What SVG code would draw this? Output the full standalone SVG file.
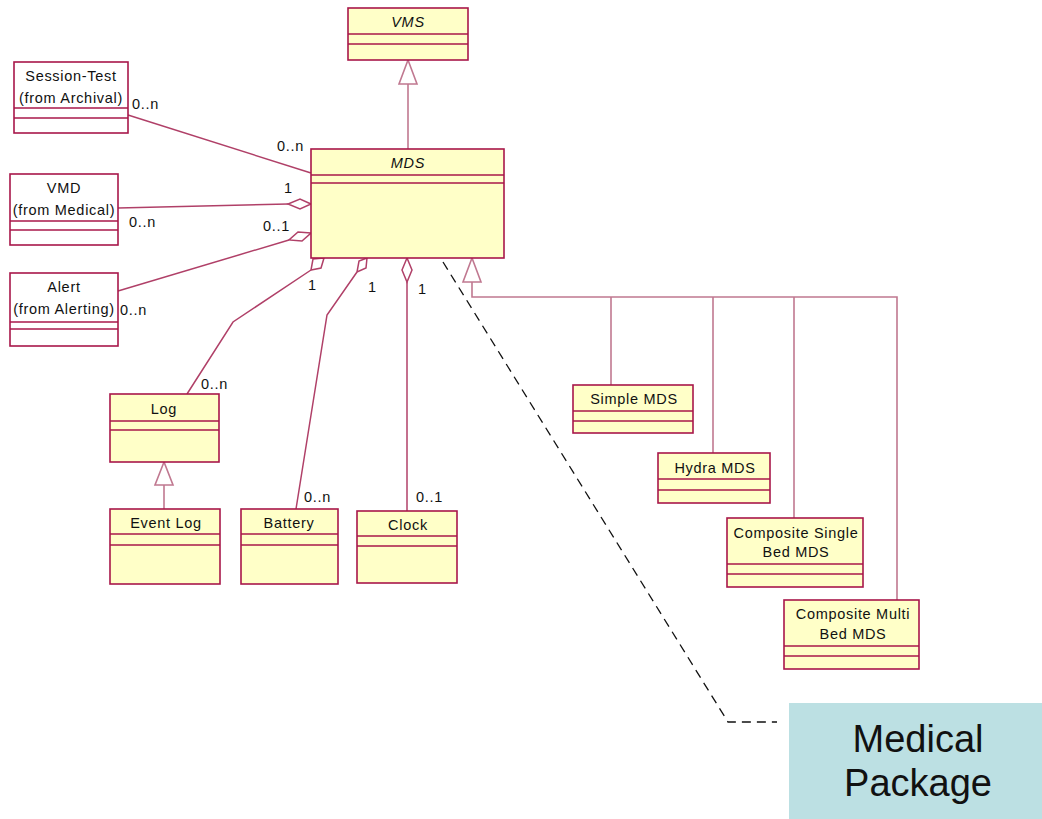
<svg xmlns="http://www.w3.org/2000/svg" width="1042" height="819" viewBox="0 0 1042 819">
<style>
.cls{fill:#ffffc8;stroke:#a8174a;stroke-width:1.6}
.ext{fill:#ffffff;stroke:#a8174a;stroke-width:1.6}
.sep{stroke:#a8174a;stroke-width:1.6}
.t{font-family:"Liberation Sans",Arial,sans-serif;font-size:14.5px;letter-spacing:0.7px;fill:#111;text-anchor:middle}
.ti{font-family:"Liberation Sans",Arial,sans-serif;font-size:14.5px;letter-spacing:0.7px;fill:#111;text-anchor:middle;font-style:italic}
.lbl{font-family:"Liberation Sans",Arial,sans-serif;font-size:14.5px;letter-spacing:0.7px;fill:#111}
.c{fill:none;stroke:#b04068;stroke-width:1.5}
.g{fill:none;stroke:#c07890;stroke-width:1.6}
.tri{fill:#ffffff;stroke:#c07890;stroke-width:1.6}
.dia{fill:#ffffff;stroke:#b04068;stroke-width:1.5}
.dash{fill:none;stroke:#111;stroke-width:1.3;stroke-dasharray:9,6}
.pkg{font-family:"Liberation Sans",Arial,sans-serif;font-size:38px;fill:#111;text-anchor:middle}
</style>
<rect width="1042" height="819" fill="#ffffff"/>
<g id="connectors">
  <line class="g" x1="408" y1="84" x2="408" y2="149"/>
  <polygon class="tri" points="408,60 399,84 417,84"/>
  <line class="c" x1="128" y1="115" x2="311" y2="173"/>
  <line class="c" x1="118" y1="208" x2="288" y2="204"/>
  <polygon class="dia" points="311,204 300,199 288,204 300,209"/>
  <line class="c" x1="118" y1="291" x2="289" y2="240"/>
  <polygon class="dia" points="311,233 298,232 289,240 302,241"/>
  <polyline class="c" points="311,270 233,322 187,394"/>
  <polygon class="dia" points="324,258 313,259 311,270 321,268"/>
  <polyline class="c" points="357,272 327,315 296,509"/>
  <polygon class="dia" points="367,258 359,261 357,272 366,268"/>
  <line class="c" x1="407" y1="282" x2="407" y2="511"/>
  <polygon class="dia" points="407,258 402,270 407,282 412,270"/>
  <line class="g" x1="164" y1="485" x2="164" y2="509"/>
  <polygon class="tri" points="164,462 155,485 173,485"/>
  <polyline class="g" points="472,282 472,297 897,297 897,600"/>
  <line class="g" x1="611" y1="297" x2="611" y2="385"/>
  <line class="g" x1="713" y1="297" x2="713" y2="453"/>
  <line class="g" x1="794" y1="297" x2="794" y2="518"/>
  <polygon class="tri" points="472,258 463,282 481,282"/>
  <polyline class="dash" points="443,262 728,722 777,722"/>
  <text class="lbl" x="132" y="109">0..n</text>
  <text class="lbl" x="277" y="151">0..n</text>
  <text class="lbl" x="284" y="193">1</text>
  <text class="lbl" x="129" y="227">0..n</text>
  <text class="lbl" x="263" y="231">0..1</text>
  <text class="lbl" x="120" y="315">0..n</text>
  <text class="lbl" x="308" y="290">1</text>
  <text class="lbl" x="368" y="292">1</text>
  <text class="lbl" x="418" y="294">1</text>
  <text class="lbl" x="201" y="389">0..n</text>
  <text class="lbl" x="304" y="502">0..n</text>
  <text class="lbl" x="416" y="502">0..1</text>
</g>
<g id="VMS">
  <rect class="cls" x="348" y="8" width="120" height="52"/>
  <line class="sep" x1="348" y1="34" x2="468" y2="34"/>
  <line class="sep" x1="348" y1="44" x2="468" y2="44"/>
  <text class="ti" x="408" y="27">VMS</text>
</g>
<g id="MDS">
  <rect class="cls" x="311" y="149" width="193" height="109"/>
  <line class="sep" x1="311" y1="175" x2="504" y2="175"/>
  <line class="sep" x1="311" y1="183" x2="504" y2="183"/>
  <text class="ti" x="408" y="168">MDS</text>
</g>
<g id="SessionTest">
  <rect class="ext" x="14" y="62" width="114" height="71"/>
  <line class="sep" x1="14" y1="108" x2="128" y2="108"/>
  <line class="sep" x1="14" y1="118" x2="128" y2="118"/>
  <text class="t" x="71" y="81">Session-Test</text>
  <text class="t" x="71" y="103">(from Archival)</text>
</g>
<g id="VMD">
  <rect class="ext" x="10" y="174" width="108" height="71"/>
  <line class="sep" x1="10" y1="221" x2="118" y2="221"/>
  <line class="sep" x1="10" y1="230" x2="118" y2="230"/>
  <text class="t" x="64" y="193">VMD</text>
  <text class="t" x="64" y="215">(from Medical)</text>
</g>
<g id="Alert">
  <rect class="ext" x="10" y="273" width="108" height="73"/>
  <line class="sep" x1="10" y1="322" x2="118" y2="322"/>
  <line class="sep" x1="10" y1="329" x2="118" y2="329"/>
  <text class="t" x="64" y="292">Alert</text>
  <text class="t" x="64" y="314">(from Alerting)</text>
</g>
<g id="Log">
  <rect class="cls" x="110" y="394" width="109" height="68"/>
  <line class="sep" x1="110" y1="421" x2="219" y2="421"/>
  <line class="sep" x1="110" y1="430" x2="219" y2="430"/>
  <text class="t" x="164" y="414">Log</text>
</g>
<g id="EventLog">
  <rect class="cls" x="110" y="509" width="110" height="75"/>
  <line class="sep" x1="110" y1="534" x2="220" y2="534"/>
  <line class="sep" x1="110" y1="545" x2="220" y2="545"/>
  <text class="t" x="166" y="528">Event Log</text>
</g>
<g id="Battery">
  <rect class="cls" x="241" y="509" width="97" height="75"/>
  <line class="sep" x1="241" y1="534" x2="338" y2="534"/>
  <line class="sep" x1="241" y1="545" x2="338" y2="545"/>
  <text class="t" x="289" y="528">Battery</text>
</g>
<g id="Clock">
  <rect class="cls" x="357" y="511" width="100" height="72"/>
  <line class="sep" x1="357" y1="536" x2="457" y2="536"/>
  <line class="sep" x1="357" y1="546" x2="457" y2="546"/>
  <text class="t" x="408" y="530">Clock</text>
</g>
<g id="SimpleMDS">
  <rect class="cls" x="573" y="385" width="120" height="48"/>
  <line class="sep" x1="573" y1="411" x2="693" y2="411"/>
  <line class="sep" x1="573" y1="421" x2="693" y2="421"/>
  <text class="t" x="634" y="404">Simple MDS</text>
</g>
<g id="HydraMDS">
  <rect class="cls" x="658" y="453" width="112" height="50"/>
  <line class="sep" x1="658" y1="479" x2="770" y2="479"/>
  <line class="sep" x1="658" y1="490" x2="770" y2="490"/>
  <text class="t" x="715" y="473">Hydra MDS</text>
</g>
<g id="CompositeSingle">
  <rect class="cls" x="727" y="518" width="136" height="69"/>
  <line class="sep" x1="727" y1="564" x2="863" y2="564"/>
  <line class="sep" x1="727" y1="574" x2="863" y2="574"/>
  <text class="t" x="796" y="538">Composite Single</text>
  <text class="t" x="796" y="557">Bed MDS</text>
</g>
<g id="CompositeMulti">
  <rect class="cls" x="784" y="600" width="135" height="69"/>
  <line class="sep" x1="784" y1="646" x2="919" y2="646"/>
  <line class="sep" x1="784" y1="656" x2="919" y2="656"/>
  <text class="t" x="853" y="619">Composite Multi</text>
  <text class="t" x="853" y="639">Bed MDS</text>
</g>
<g id="MedicalPackage">
  <rect x="789" y="703" width="253" height="116" fill="#bce0e3"/>
  <text class="pkg" x="918" y="752">Medical</text>
  <text class="pkg" x="918" y="796">Package</text>
</g>
</svg>
